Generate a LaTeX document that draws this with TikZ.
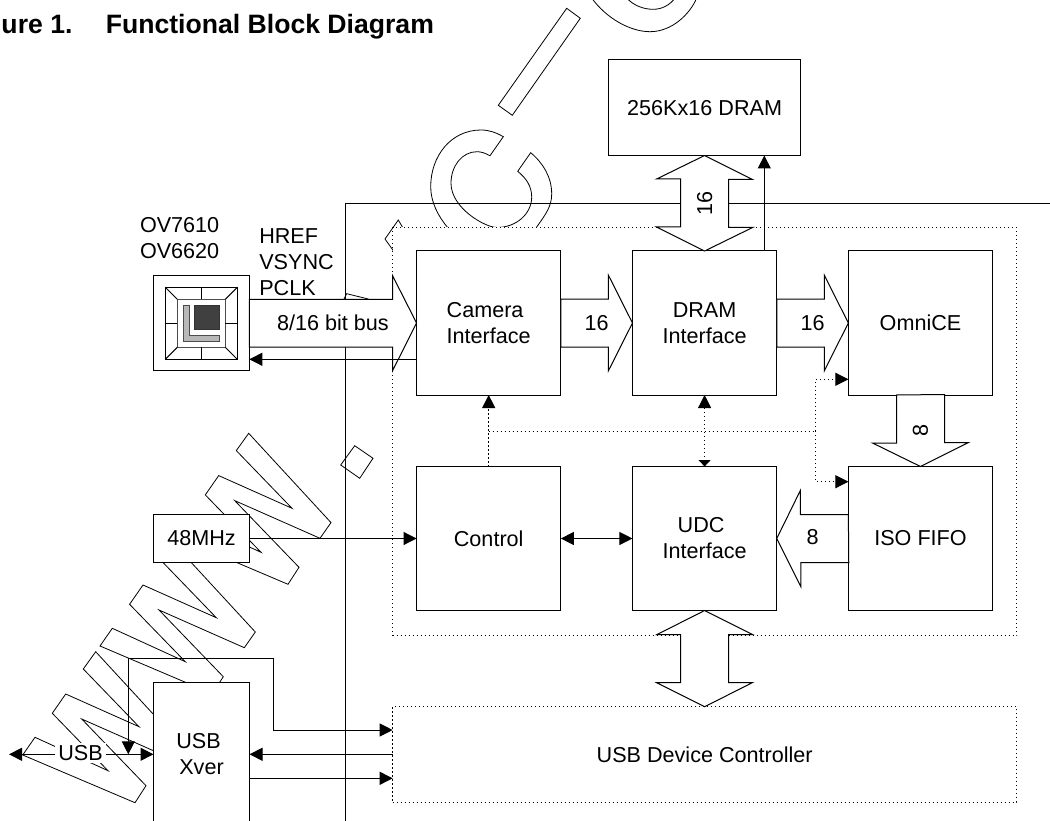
\documentclass[tikz,border=0pt]{standalone}
\usepackage{fontspec}
\setmainfont{Liberation Sans}
\usetikzlibrary{arrows.meta}
\tikzset{
  lbl/.style={font=\fontsize{21.6pt}{26pt}\selectfont,inner sep=0pt,outer sep=0pt},
  title/.style={font=\fontsize{26.6pt}{30pt}\selectfont\bfseries,inner sep=0pt,anchor=base west},
  block/.style={lbl,draw,fill=white,align=center,minimum width=144.3pt,minimum height=144pt},
  smallbox/.style={lbl,draw,fill=white,align=center,minimum width=96pt},
  dotbox/.style={lbl,draw,fill=white,dash pattern=on 1.2pt off 2.8pt,minimum width=624pt},
  wm/.style={line width=0.8pt},
  wire/.style={-{Triangle[length=13pt,width=13pt]}},
  wirepair/.style={{Triangle[length=13pt,width=13pt]}-{Triangle[length=13pt,width=13pt]}},
  dotwire/.style={dash pattern=on 1.2pt off 2.8pt},
  bus/.style={draw,fill=white,line join=miter}
}
\begin{document}
\begin{tikzpicture}[x=1pt,y=-1pt,line width=1pt]
\clip (0,0) rectangle (1050,821);
% watermark
\draw[wm] (345.3,821) -- (345.3,203) -- (1050,203);
\foreach \ax/\ay in {248.7/433.3,173/542.7,95.7/651.7}
  \draw[wm,shift={(\ax,\ay)}] (0,0) -- (82.3,89.3) -- (71.3,105) -- (-14,67.3) -- (50.3,134) -- (39.3,151)
    -- (-73,103.3) -- (-60.7,85.6) -- (12.3,119) -- (-43.4,61.6) -- (-30,42.3) -- (43.3,75) -- (-12.4,17.3) -- cycle;
\draw[wm] (354.7,445.7) -- (373,458.3) -- (359.7,478.3) -- (340.7,465) -- cycle;
\draw[wm] (566.7,8.3) -- (580.3,18.3) -- (512.3,115.3) -- (498.3,105.3) -- cycle;
\draw[wm] (503.3,136.7) .. controls (496,132.5) and (489,130) .. (481,130)
  .. controls (451,130) and (430.7,156) .. (430.7,186.7)
  .. controls (430.7,202) and (438,216) .. (448,228) -- (455,240) -- (530,240) -- (536.7,227)
  .. controls (546,214) and (551.7,206) .. (551.7,194)
  .. controls (551.7,177) and (543,163) .. (530.7,152.7) -- (517.7,171.3)
  .. controls (526,178) and (531.7,186) .. (531.7,197)
  .. controls (531.7,214) and (516,227.5) .. (497,227.5)
  .. controls (485,227.5) and (451,208) .. (451,183.3)
  .. controls (451,166) and (462,151.7) .. (477,151.7)
  .. controls (481,151.7) and (485,153) .. (490,155.7) -- cycle;
\draw[wm] (591.7,-2) .. controls (606,18) and (630,31.7) .. (650,31.7) .. controls (672,31.7) and (690,14) .. (696.7,-2);
\draw[wm] (626.7,-2) .. controls (634,6) and (644,9.3) .. (653.3,9.3) .. controls (662,9.3) and (670,5) .. (675,-2);
\draw[wm] (398.3,220) -- (385,239) -- (395,253) -- (410,240) -- cycle;
\draw[wm] (343,301) -- (346.7,293.7) -- (368.3,299) -- (368.3,305) -- cycle;
% title
\node[title] (figno) at (1,34) {ure 1.};
\node[title] (figname) at (105.3,34) {Functional Block Diagram};
% dotted boxes
\node[dotbox,minimum height=408.2pt] (core) at (704.7,431.6) {};
\node[dotbox,minimum height=95.3pt] (usbctl) at (704.7,754.35) {USB Device Controller};
% blocks
\node[block,align=left] (cam) at (488.7,323) {Camera\\Interface};
\node[block] (dramif) at (704.6,323) {DRAM\\Interface};
\node[block] (omni) at (920.5,323) {OmniCE};
\node[block] (ctrl) at (488.7,538.5) {Control};
\node[block] (udc) at (704.6,538.5) {UDC\hspace*{7pt}\\Interface};
\node[block] (iso) at (920.5,538.5) {ISO FIFO};
\node[lbl,draw,fill=white,minimum width=191.3pt,minimum height=95.5pt] (dram) at (704.6,107.75) {256Kx16 DRAM};
\node[smallbox,minimum height=95.3pt] (sensor) at (201.3,323.3) {};
\node[smallbox,minimum height=48pt] (osc) at (201.5,538.5) {48MHz};
\node[smallbox,minimum height=144pt] (xver) at (201.5,754) {USB\hspace*{6pt}\\Xver};
% sensor chip
\begin{scope}[shift={(sensor.center)}]
\draw (-36,-36) rectangle (36,36);
\draw[line width=1.5pt,black!70] (-24,-24) rectangle (24,24);
\foreach \sx/\sy in {-1/-1,1/-1,-1/1,1/1}
  \draw (\sx*36,\sy*36) -- (\sx*24,\sy*24);
\draw (0,-36) -- (0,-24) (0,24) -- (0,36) (-36,0) -- (-24,0) (24,0) -- (36,0);
\draw[fill=black!75,draw=black!80] (-6.5,-18) rectangle (18,6);
\draw[fill=black!28,draw=black!70] (-18,-18) -- (-12,-18) -- (-12,12) -- (18,12) -- (18,18) -- (-18,18) -- cycle;
\end{scope}
\node[lbl,align=left,anchor=west] (ovname) at (140,238) {OV7610\\OV6620};
\node[lbl,align=left,anchor=west] (sync) at (259.3,262) {HREF\\VSYNC\\PCLK};
% wide arrows
\draw[bus] (sensor.east) ++(0,-24) -- ++(143.2,0) -- ++(0,-23.7) -- (cam.west) -- ++(-24,47.7) -- ++(0,-23.7) -- ++(-143.2,0) -- cycle;
\path (sensor.east) -- node[lbl] (busname) {8/16 bit bus} (cam.west);
\draw[bus] (cam.east) ++(0,-24) -- ++(47.6,0) -- ++(0,-23.7) -- (dramif.west) -- ++(-24,47.7) -- ++(0,-23.7) -- ++(-47.6,0) -- cycle;
\path (cam.east) -- node[lbl] (busa) {16} (dramif.west);
\draw[bus] (dramif.east) ++(0,-24) -- ++(47.6,0) -- ++(0,-23.7) -- (omni.west) -- ++(-24,47.7) -- ++(0,-23.7) -- ++(-47.6,0) -- cycle;
\path (dramif.east) -- node[lbl] (busb) {16} (omni.west);
\draw[bus] (omni.south) ++(-24,0) -- ++(0,48) -- ++(-24,0) -- (iso.north) -- ++(48,-24) -- ++(-24,0) -- ++(0,-48) -- cycle;
\path (omni.south) -- node[lbl,rotate=90] (busc) {8} (iso.north);
\draw[bus] (iso.west) ++(0,-24) -- ++(-48,0) -- ++(0,-24) -- (udc.east) -- ++(24,48) -- ++(0,-24) -- ++(48,0) -- cycle;
\path (iso.west) -- node[lbl,yshift=1pt] (busd) {8} (udc.east);
\draw[bus] (dram.south) -- ++(48,24) -- ++(-24,0) -- ++(0,48) -- ++(24,0) -- (dramif.north) -- ++(-48,-24) -- ++(24,0) -- ++(0,-48) -- ++(-24,0) -- cycle;
\path (dram.south) -- node[lbl,rotate=90] (buse) {16} (dramif.north);
\draw[bus] (udc.south) -- ++(48,24) -- ++(-24,0) -- ++(0,48) -- ++(24,0) -- (usbctl.north) -- ++(-48,-24) -- ++(24,0) -- ++(0,-48) -- ++(-24,0) -- cycle;
% thin wires
\coordinate (camback) at (416.5,359.3);
\coordinate (dramup) at (764.3,251);
\draw[wire] (camback) -- (sensor.east |- camback);
\draw[wire] (dramup) -- (dramup |- dram.south);
\draw[wire] (osc) -- (ctrl);
\draw[wirepair] (ctrl) -- (udc);
% dotted wires
\coordinate (split) at (815.7,431);
\coordinate (omniin) at (848.4,379.3);
\coordinate (isoin) at (848.4,481.7);
\draw[wire,dotwire] (ctrl.north) -- (cam.south);
\draw[dotwire] (ctrl.north |- split) -- (split);
\draw[wire,dotwire] (split) |- (omniin);
\draw[wire,dotwire] (split) |- (isoin);
\draw[{Triangle[length=13pt,width=13pt]}-{Triangle[length=6.5pt,width=12pt]},dotwire] (dramif.south) -- (udc.north);
% USB side
\coordinate (usbleft) at (9,754.3);
\coordinate (loopdrop) at (128.3,754.3);
\coordinate (looptop) at (128.3,658.3);
\coordinate (loopside) at (273.3,658.3);
\coordinate (ctlina) at (392.7,730);
\coordinate (ctlout) at (392.7,754.3);
\coordinate (xverout) at (249.5,778.3);
\coordinate (ctlinb) at (392.7,778.3);
\draw[wirepair] (usbleft) -- (loopdrop -| xver.west);
\draw[wirepair] (loopdrop) -- (looptop) -- (loopside) |- (ctlina);
\draw[wire] (ctlout) -- (ctlout -| xver.east);
\draw[wire] (xverout) -- (ctlinb);
\node[lbl,fill=white,inner xsep=3pt,inner ysep=2pt] (usbname) at (80.5,753) {USB};
\end{tikzpicture}
\end{document}
